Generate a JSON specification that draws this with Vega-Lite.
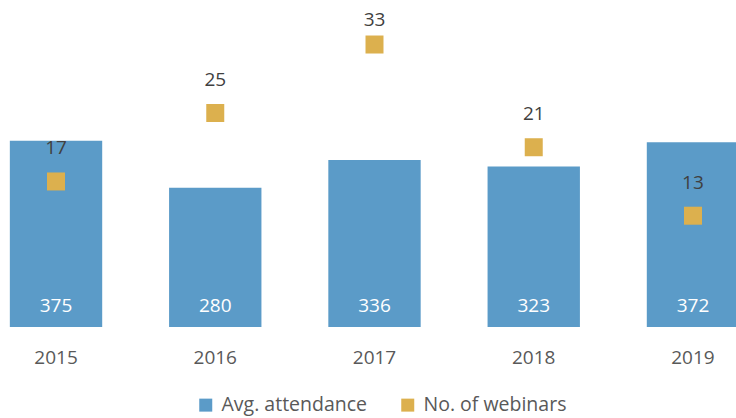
{
  "$schema": "https://vega.github.io/schema/vega-lite/v6.json",
  "width": 736,
  "height": 327,
  "autosize": "none",
  "padding": {"left": 0, "right": 0, "top": 0, "bottom": 91},
  "background": "white",
  "config": {
    "view": {"stroke": null},
    "font": "Open Sans",
    "legend": {"symbolType": "square"}
  },
  "data": {
    "values": [
      {"year": "2015", "attendance": 375, "webinars": 17},
      {"year": "2016", "attendance": 280, "webinars": 25},
      {"year": "2017", "attendance": 336, "webinars": 33},
      {"year": "2018", "attendance": 323, "webinars": 21},
      {"year": "2019", "attendance": 372, "webinars": 13}
    ]
  },
  "encoding": {
    "x": {
      "field": "year",
      "type": "nominal",
      "scale": {"range": [-23.6, 772.6], "paddingInner": 0.42, "paddingOuter": 0.21},
      "axis": {
        "title": null,
        "labelAngle": 0,
        "domain": false,
        "ticks": false,
        "labelPadding": 21,
        "labelFontSize": 19,
        "labelColor": "#595959",
        "labelFont": "Open Sans"
      }
    }
  },
  "layer": [
    {
      "layer": [
        {
          "mark": {"type": "bar"},
          "encoding": {
            "y": {"field": "attendance", "type": "quantitative", "scale": {"domain": [0, 658], "nice": false}, "axis": null},
            "color": {
              "datum": "Avg. attendance",
              "scale": {"domain": ["Avg. attendance", "No. of webinars"], "range": ["#5b9bc8", "#dcb04e"]},
              "legend": {
                "title": null,
                "orient": "none",
                "legendX": 196,
                "legendY": 395,
                "direction": "horizontal",
                "symbolSize": 169,
                "symbolType": "square",
                "symbolStrokeWidth": 0,
                "labelFontSize": 19.5,
                "labelColor": "#595959",
                "labelFont": "Open Sans",
                "labelOffset": 6,
                "columnPadding": 30
              }
            }
          }
        },
        {
          "mark": {"type": "text", "baseline": "alphabetic", "dy": -15, "fontSize": 19, "color": "white", "font": "Open Sans"},
          "encoding": {
            "y": {"datum": 0, "type": "quantitative", "scale": {"domain": [0, 658], "nice": false}},
            "text": {"field": "attendance", "type": "quantitative"}
          }
        }
      ]
    },
    {
      "mark": {"type": "point", "shape": "square", "filled": true, "opacity": 1, "size": 324},
      "encoding": {
        "y": {"field": "webinars", "type": "quantitative", "scale": {"domain": [0, 38.2], "nice": false}, "axis": null},
        "color": {"datum": "No. of webinars"}
      }
    },
    {
      "mark": {"type": "text", "baseline": "middle", "fontSize": 19, "color": "#404040", "font": "Open Sans"},
      "encoding": {
        "y": {"field": "webinars", "type": "quantitative", "scale": {"domain": [0, 32], "range": [294, 20.1], "clamp": true, "nice": false}, "axis": null},
        "text": {"field": "webinars", "type": "quantitative"}
      }
    }
  ],
  "resolve": {"scale": {"y": "independent"}}
}
